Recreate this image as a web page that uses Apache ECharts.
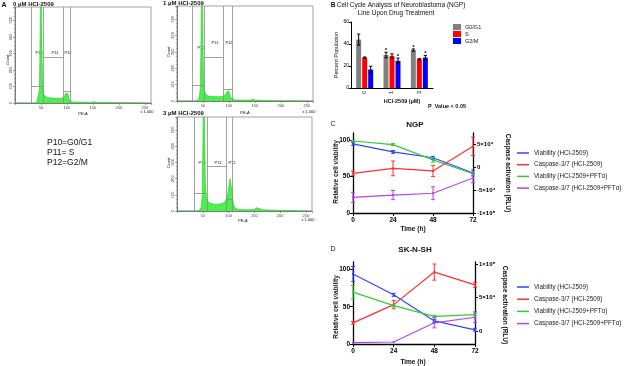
<!DOCTYPE html>
<html>
<head>
<meta charset="utf-8">
<script src="https://cdn.jsdelivr.net/npm/echarts@6/dist/echarts.min.js"></script>
<style>
  html, body { margin: 0; padding: 0; background: #fff; }
  #chart { width: 625px; height: 366px; }
</style>
</head>
<body>
<div id="chart"></div>
<script>
// ---- panel A: PE-A histograms (x in units of 1,000, y in counts) ----
const hist0uM = [[0,0],[38,0],[42,4],[45,15],[47,80],[48,300],[49,620],[50,700],[51,650],[52,300],[53,120],[55,50],[58,38],[62,33],[70,30],[80,28],[88,28],[93,32],[96,45],[98,60],[100,67],[102,55],[104,25],[107,10],[112,6],[130,5],[148,5],[153,8],[157,5],[175,3],[200,2],[230,1],[262,0]];
const hist1uM = [[0,0],[36,0],[40,5],[43,20],[45,90],[46,300],[47,620],[48,700],[49,640],[50,350],[51,150],[53,60],[56,40],[60,30],[70,27],[80,26],[88,28],[92,35],[95,50],[97,62],[99,64],[101,50],[103,22],[106,10],[112,6],[130,5],[142,6],[146,12],[150,6],[170,3],[200,2],[230,1],[262,0]];
const hist3uM = [[0,0],[40,0],[44,6],[47,25],[49,100],[50,350],[51,620],[52,700],[53,640],[54,400],[55,180],[57,80],[60,58],[65,48],[72,42],[80,42],[88,46],[94,60],[98,95],[101,160],[103,200],[105,195],[107,120],[109,50],[112,20],[118,10],[135,8],[150,9],[154,20],[157,23],[160,15],[165,8],[190,5],[220,3],[262,0]];
// gate borders (P10 | P11 | P12) and gate heights
const gate0uM = [32, 54, 93, 107];
const gateLvl0uM = [103, 278, 72];
const gate1uM = [29, 52, 90, 106];
const gateLvl1uM = [99, 267, 70];
const gate3uM = [33, 58, 96, 108];
const gateLvl3uM = [110, 278, 75];

// ---- panel B: cell cycle bars ----
const doses = ['0', '1', '3'];
const g0g1 = [44, 30, 34.5];
const g0g1Err = [5, 2.5, 1];
const g0g1Sig = [0, 1, 1];
const sPhase = [27.7, 29, 26.2];
const sPhaseErr = [0.5, 2, 0.5];
const g2m = [16.8, 24.7, 27.7];
const g2mErr = [3, 2.5, 2];
const g2mSig = [0, 1, 1];

// ---- panels C / D: time course ----
const timeH = [0, 24, 48, 72];
const ngpViab = [95, 84, 76, 55];
const ngpViabErr = [2, 2, 2, 4];
const ngpCasp = [-14000, -3000, -8500, 45000];
const ngpCaspErr = [5000, 16000, 12000, 20000];
const ngpViabPft = [99, 94, 73, 54];
const ngpViabPftErr = [1, 1.5, 3, 2];
const ngpCaspPft = [-66000, -61000, -57000, -24000];
const ngpCaspPftErr = [11000, 10000, 14000, 10000];

const skViab = [94, 66, 31, 19];
const skViabErr = [10, 2, 2, 2];
const skCasp = [12500, 39600, 88000, 69000];
const skCaspErr = [2000, 6000, 12000, 4000];
const skViabPft = [69.5, 51.5, 37, 39.5];
const skViabPftErr = [9, 1.5, 1.5, 2];
const skCaspPft = [-17000, -16000, 12500, 20800];
const skCaspPftErr = [0, 0, 7500, 8000];

const lineNames = ['Viability (HCl-2509)', 'Caspase-3/7 (HCl-2509)', 'Viability (HCl-2509+PFTα)', 'Caspase-3/7 (HCl-2509+PFTα)'];

const FONT = 'Liberation Sans, Arial, sans-serif';
const BLUE = '#3344ff', RED = '#ff3030', GREEN = '#33cc33', PURPLE = '#b444ee';
const SUP = { 4: '⁴', 5: '⁵' };

function sci(v) {
  if (v === 0) return '0';
  const a = Math.abs(v);
  const e = Math.floor(Math.log10(a) + 1e-9);
  return (v < 0 ? '-' : '') + Math.round(a / Math.pow(10, e)) + '×10' + SUP[e];
}

// error bars (and optional asterisk) drawn through the axes
function errBar(offset, color, cap) {
  return function (params, api) {
    const x = api.value(0), y = api.value(1), e = api.value(2);
    const hi = api.coord([x, y + e]);
    const lo = api.coord([x, y - e]);
    const cx = hi[0] + offset;
    const st = { stroke: color, lineWidth: 1 };
    const kids = [];
    if (e > 0) {
      kids.push({ type: 'line', shape: { x1: cx, y1: hi[1], x2: cx, y2: lo[1] }, style: st });
      kids.push({ type: 'line', shape: { x1: cx - cap, y1: hi[1], x2: cx + cap, y2: hi[1] }, style: st });
      kids.push({ type: 'line', shape: { x1: cx - cap, y1: lo[1], x2: cx + cap, y2: lo[1] }, style: st });
    }
    if (api.value(3)) {
      kids.push({ type: 'text', x: cx, y: hi[1] + 1, style: { text: '*', fill: '#000', font: 'bold 6px ' + FONT, align: 'center', verticalAlign: 'bottom' } });
    }
    return { type: 'group', children: kids };
  };
}

function histAxisX(i) {
  return {
    type: 'value', gridIndex: i, min: 0, max: 262, interval: 50,
    axisLine: { onZero: false, lineStyle: { color: '#666', width: 0.8 } },
    axisTick: { length: 2, lineStyle: { color: '#666', width: 0.6 } },
    minorTick: { show: true, splitNumber: 5, length: 1.2, lineStyle: { color: '#777', width: 0.5 } },
    splitLine: { show: false },
    axisLabel: { fontSize: 4, color: '#444', margin: 3, fontFamily: FONT, showMaxLabel: false, formatter: v => (v === 0 ? '' : v) }
  };
}
function histAxisY(i) {
  return {
    type: 'value', gridIndex: i, min: 0, max: 580, interval: 100,
    axisLine: { show: true, onZero: false, lineStyle: { color: '#666', width: 0.8 } },
    axisTick: { show: true, length: 2, lineStyle: { color: '#666', width: 0.6 } },
    minorTick: { show: true, splitNumber: 4, length: 1.2, lineStyle: { color: '#777', width: 0.5 } },
    splitLine: { show: false },
    axisLabel: { fontSize: 4, color: '#444', margin: 2, rotate: 90, fontFamily: FONT, showMaxLabel: false }
  };
}
function histSeries(i, data, bounds, lvls) {
  const ml = bounds.map(b => ({ xAxis: b }));
  lvls.forEach((l, k) => ml.push([{ coord: [bounds[k], l] }, { coord: [bounds[k + 1], l] }]));
  return {
    type: 'line', xAxisIndex: i, yAxisIndex: i, data: data, showSymbol: false,
    lineStyle: { color: '#22cc22', width: 0.6 },
    areaStyle: { color: '#4cf04c', opacity: 1 },
    markLine: {
      silent: true, symbol: 'none', label: { show: false }, animation: false,
      lineStyle: { color: '#8a8a8a', width: 0.8, type: 'solid' },
      data: ml
    }
  };
}

const boldAx = (sz) => ({ fontSize: sz, fontWeight: 'bold', color: '#000', fontFamily: FONT });
function timeAxisX(i) {
  return {
    type: 'value', gridIndex: i, min: 0, max: 72, interval: 24,
    axisLine: { onZero: false, lineStyle: { color: '#000', width: 1.3 } },
    axisTick: { length: 3, lineStyle: { color: '#000', width: 1 } },
    splitLine: { show: false },
    axisLabel: Object.assign({ margin: 4 }, boldAx(6.5))
  };
}
function leftAxisY(i) {
  const ticks = [0, 50, 100];
  return {
    type: 'value', gridIndex: i, min: 0, max: 110, position: 'left',
    axisLine: { show: true, onZero: false, lineStyle: { color: '#000', width: 1.3 } },
    axisTick: { show: true, length: 3, customValues: ticks, lineStyle: { color: '#000', width: 1 } },
    splitLine: { show: false },
    axisLabel: Object.assign({ margin: 3, customValues: ticks }, boldAx(6.5))
  };
}
function rightAxisY(i, min, max, ticks) {
  return {
    type: 'value', gridIndex: i, min: min, max: max, position: 'right',
    axisLine: { show: true, onZero: false, lineStyle: { color: '#000', width: 1.3 } },
    axisTick: { show: true, length: 3, customValues: ticks, lineStyle: { color: '#000', width: 1 } },
    splitLine: { show: false },
    axisLabel: Object.assign({ margin: 4, customValues: ticks, formatter: sci }, boldAx(6))
  };
}

function tsLine(name, x, y, vals, color) {
  return {
    type: 'line', name: name, xAxisIndex: x, yAxisIndex: y,
    data: timeH.map((t, i) => [t, vals[i]]),
    symbol: 'rect', symbolSize: 2, showSymbol: true,
    lineStyle: { color: color, width: 1.2 }, itemStyle: { color: color }, z: 3
  };
}
function tsErr(x, y, vals, errs, color) {
  return {
    type: 'custom', xAxisIndex: x, yAxisIndex: y, renderItem: errBar(0, color, 2), z: 4,
    data: timeH.map((t, i) => [t, vals[i], errs[i], 0])
  };
}
function barErr(vals, errs, sig, off) {
  return {
    type: 'custom', xAxisIndex: 3, yAxisIndex: 3, renderItem: errBar(off, '#000', 1.6), z: 5,
    data: vals.map((v, i) => [i, v, errs[i], sig ? sig[i] : 0])
  };
}

const txt = (text, x, y, font, extra) => ({
  type: 'text', x: x, y: y, silent: true,
  style: Object.assign({ text: text, font: font + ' ' + FONT, fill: '#111', align: 'center', verticalAlign: 'middle' }, extra || {}),
});
const rot = (text, x, y, font, r) => Object.assign(txt(text, x, y, font), { rotation: r });

const chart = echarts.init(document.getElementById('chart'), null, { renderer: 'canvas' });

chart.setOption({
  animation: false,
  backgroundColor: '#fff',
  textStyle: { fontFamily: FONT },
  grid: [
    { left: 15, top: 7, width: 136, height: 96, show: true, borderColor: '#8c8c8c', borderWidth: 0.8 },
    { left: 177, top: 6, width: 136, height: 95, show: true, borderColor: '#8c8c8c', borderWidth: 0.8 },
    { left: 177, top: 117, width: 135, height: 94, show: true, borderColor: '#8c8c8c', borderWidth: 0.8 },
    { left: 351, top: 22, width: 82, height: 66 },
    { left: 353, top: 133, width: 120, height: 80 },
    { left: 353, top: 262, width: 122, height: 82 }
  ],
  xAxis: [
    histAxisX(0), histAxisX(1), histAxisX(2),
    {
      type: 'category', gridIndex: 3, data: doses,
      axisLine: { onZero: false, lineStyle: { color: '#000', width: 1 } },
      axisTick: { alignWithLabel: true, length: 2, lineStyle: { color: '#000' } },
      axisLabel: { fontSize: 5, color: '#000', rotate: 90, margin: 3, fontFamily: FONT }
    },
    timeAxisX(4), timeAxisX(5)
  ],
  yAxis: [
    histAxisY(0), histAxisY(1), histAxisY(2),
    {
      type: 'value', gridIndex: 3, min: 0, max: 60, interval: 20,
      axisLine: { show: true, onZero: false, lineStyle: { color: '#000', width: 1 } },
      axisTick: { show: true, length: 2, lineStyle: { color: '#000' } },
      splitLine: { show: false },
      axisLabel: { fontSize: 5, color: '#000', margin: 2, fontFamily: FONT }
    },
    leftAxisY(4), rightAxisY(4, -100000, 74000, [-100000, -50000, 0, 50000]),
    leftAxisY(5), rightAxisY(5, -19000, 103000, [0, 50000, 100000])
  ],
  legend: [
    {
      data: ['G0/G1', 'S', 'G2/M'], orient: 'vertical', left: 453, top: 24, padding: 0,
      icon: 'rect', itemWidth: 8, itemHeight: 6, itemGap: 1, selectedMode: false,
      textStyle: { fontSize: 5.5, color: '#222', fontFamily: FONT, padding: [0, 0, 0, -1] }
    },
    {
      data: lineNames, orient: 'vertical', left: 517, top: 148, padding: 0,
      icon: 'rect', itemWidth: 12, itemHeight: 1.5, itemGap: 1.7, selectedMode: false,
      textStyle: { fontSize: 6.3, lineHeight: 10, color: '#222', fontFamily: FONT }
    },
    {
      data: lineNames, orient: 'vertical', left: 517, top: 282, padding: 0,
      icon: 'rect', itemWidth: 12, itemHeight: 1.5, itemGap: 2.2, selectedMode: false,
      textStyle: { fontSize: 6.3, lineHeight: 10, color: '#222', fontFamily: FONT }
    }
  ],
  series: [
    histSeries(0, hist0uM, gate0uM, gateLvl0uM),
    histSeries(1, hist1uM, gate1uM, gateLvl1uM),
    histSeries(2, hist3uM, gate3uM, gateLvl3uM),

    { type: 'bar', name: 'G0/G1', xAxisIndex: 3, yAxisIndex: 3, data: g0g1, barWidth: 5, barGap: '20%', itemStyle: { color: '#808080' } },
    { type: 'bar', name: 'S', xAxisIndex: 3, yAxisIndex: 3, data: sPhase, barWidth: 5, barGap: '20%', itemStyle: { color: '#ff0000' } },
    { type: 'bar', name: 'G2/M', xAxisIndex: 3, yAxisIndex: 3, data: g2m, barWidth: 5, barGap: '20%', itemStyle: { color: '#0000ff' } },
    barErr(g0g1, g0g1Err, g0g1Sig, -6),
    barErr(sPhase, sPhaseErr, null, 0),
    barErr(g2m, g2mErr, g2mSig, 6),

    tsLine(lineNames[0], 4, 4, ngpViab, BLUE),
    tsLine(lineNames[1], 4, 5, ngpCasp, RED),
    tsLine(lineNames[2], 4, 4, ngpViabPft, GREEN),
    tsLine(lineNames[3], 4, 5, ngpCaspPft, PURPLE),
    tsErr(4, 4, ngpViab, ngpViabErr, BLUE),
    tsErr(4, 5, ngpCasp, ngpCaspErr, RED),
    tsErr(4, 4, ngpViabPft, ngpViabPftErr, GREEN),
    tsErr(4, 5, ngpCaspPft, ngpCaspPftErr, PURPLE),

    tsLine(lineNames[0], 5, 6, skViab, BLUE),
    tsLine(lineNames[1], 5, 7, skCasp, RED),
    tsLine(lineNames[2], 5, 6, skViabPft, GREEN),
    tsLine(lineNames[3], 5, 7, skCaspPft, PURPLE),
    tsErr(5, 6, skViab, skViabErr, BLUE),
    tsErr(5, 7, skCasp, skCaspErr, RED),
    tsErr(5, 6, skViabPft, skViabPftErr, GREEN),
    tsErr(5, 7, skCaspPft, skCaspPftErr, PURPLE)
  ],
  graphic: [
    // panel A
    txt('A', 4, 5, 'bold 7px'),
    txt('0 µM HCl-2509', 13, 4, 'bold 6px', { align: 'left' }),
    txt('1 µM HCl-2509', 163, 3, 'bold 6px', { align: 'left' }),
    txt('3 µM HCl-2509', 163, 113, 'bold 6px', { align: 'left' }),
    rot('Count', 8, 60, '4px', Math.PI / 2),
    rot('Count', 169, 52, '4px', Math.PI / 2),
    rot('Count', 169, 163, '4px', Math.PI / 2),
    txt('PE-A', 83, 114, '4px'), txt('x 1,000', 147, 112, '4px'),
    txt('PE-A', 245, 113, '4px'), txt('x 1,000', 309, 112, '4px'),
    txt('PE-A', 243, 221, '4px'), txt('x 1,000', 308, 220, '4px'),
    txt('P10', 39, 53, '4px'), txt('P11', 55, 53, '4px'), txt('P12', 68, 53, '4px'),
    txt('P10', 201, 48, '4px'), txt('P11', 215, 43, '4px'), txt('P12', 229, 43, '4px'),
    txt('P10', 202, 163, '4px'), txt('P11', 218, 163, '4px'), txt('P12', 232, 163, '4px'),
    txt('P10=G0/G1', 47, 143, '8.5px', { align: 'left' }),
    txt('P11= S', 47, 153, '8.5px', { align: 'left' }),
    txt('P12=G2/M', 47, 163, '8.5px', { align: 'left' }),
    // panel B
    txt('B', 333, 5, 'bold 6.5px'),
    txt('Cell Cycle Analysis of Neuroblastoma (NGP)', 401, 5, '6.5px'),
    txt('Line Upon Drug Treatment', 396, 13, '6.5px'),
    rot('Percent Population', 336, 55, '5.5px', Math.PI / 2),
    txt('HCl-2509 (µM)', 402, 101, 'bold 5.5px'),
    txt('P  Value < 0.05', 447, 106, 'bold 5.5px'),
    // panel C
    txt('C', 333, 124, '7px'),
    txt('NGP', 415, 125, 'bold 8px'),
    rot('Relative cell viability', 336, 172, 'bold 6.5px', Math.PI / 2),
    rot('Caspase activation (RLU)', 508, 173, 'bold 6.5px', -Math.PI / 2),
    txt('Time (h)', 413, 229, 'bold 6.5px'),
    // panel D
    txt('D', 333, 249, '7px'),
    txt('SK-N-SH', 415, 250, 'bold 8px'),
    rot('Relative cell viability', 336, 307, 'bold 6.5px', Math.PI / 2),
    rot('Caspase activation (RLU)', 505, 305, 'bold 6.5px', -Math.PI / 2),
    txt('Time (h)', 413, 362, 'bold 6.5px')
  ]
});
</script>
</body>
</html>
